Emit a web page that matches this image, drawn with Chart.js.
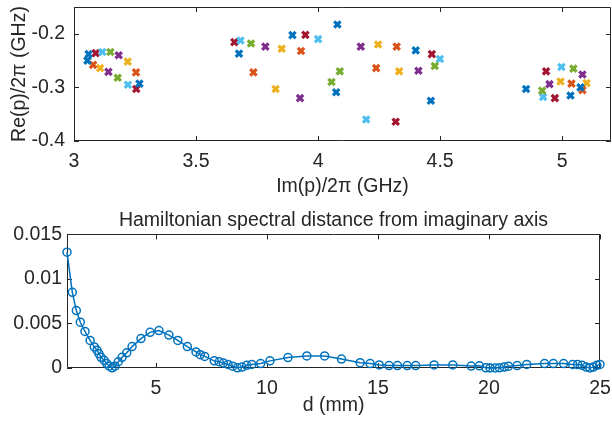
<!DOCTYPE html>
<html>
<head>
<meta charset="utf-8">
<script src="https://cdn.jsdelivr.net/npm/chart.js@4/dist/chart.umd.min.js"></script>
<style>
  body { margin: 0; background: #fff; }
  canvas { display: block; }
</style>
</head>
<body>
<canvas id="poles" width="612" height="200"></canvas>
<canvas id="distance" width="612" height="226"></canvas>
<script>
'use strict';

// Poles p/2π (GHz): imaginary part (x) and real part (y), grouped by plot colour
const blueIm   = [3.060, 3.055, 3.268, 3.676, 3.895, 4.079, 4.074, 4.400, 4.462, 4.852, 5.075, 5.034];
const blueRe   = [-0.238, -0.250, -0.293, -0.237, -0.2025, -0.1826, -0.309, -0.231, -0.325, -0.303, -0.300, -0.315];
const orangeIm = [3.078, 3.254, 3.735, 3.930, 4.238, 4.322, 5.083, 5.038];
const orangeRe = [-0.258, -0.272, -0.272, -0.232, -0.264, -0.224, -0.305, -0.293];
const yellowIm = [3.107, 3.220, 3.826, 3.851, 4.246, 4.332, 5.100, 4.993];
const yellowRe = [-0.264, -0.252, -0.303, -0.228, -0.220, -0.270, -0.292, -0.289];
const purpleIm = [3.183, 3.141, 3.784, 3.926, 4.175, 4.411, 5.083, 4.948];
const purpleRe = [-0.240, -0.271, -0.224, -0.320, -0.224, -0.269, -0.276, -0.294];
const greenIm  = [3.149, 3.179, 3.725, 4.055, 4.089, 4.478, 5.046, 4.918];
const greenRe  = [-0.234, -0.282, -0.218, -0.290, -0.270, -0.260, -0.265, -0.306];
const cyanIm   = [3.116, 3.221, 3.682, 4.000, 4.197, 4.499, 4.997, 4.922];
const cyanRe   = [-0.234, -0.295, -0.2125, -0.210, -0.360, -0.247, -0.262, -0.318];
const redIm    = [3.089, 3.255, 3.657, 3.948, 4.318, 4.466, 4.934, 4.970];
const redRe    = [-0.236, -0.303, -0.2155, -0.202, -0.364, -0.238, -0.270, -0.320];

const poleXTicks = [3, 3.5, 4, 4.5, 5];
const poleYTicks = [-0.4, -0.3, -0.2];

// Hamiltonian spectral distance vs separation d (mm)
const dMm = [1.0, 1.24, 1.42, 1.6, 1.81, 2.04, 2.23, 2.35, 2.44, 2.53, 2.67, 2.79, 2.9, 3.03, 3.16, 3.31, 3.48, 3.69, 3.93,
  4.33, 4.74, 5.14, 5.59, 5.99, 6.42, 6.81, 7.0, 7.2, 7.63, 7.85, 8.04, 8.25, 8.46, 8.67, 8.88, 9.09, 9.32, 9.72, 10.14,
  10.95, 11.8, 12.6, 13.36, 14.2, 14.65, 15.06, 15.5, 15.88, 16.32, 16.7, 17.53, 18.37, 19.2, 19.57, 19.86, 20.05, 20.28,
  20.47, 20.69, 20.88, 21.27, 21.7, 22.5, 22.9, 23.36, 23.77, 23.99, 24.2, 24.38, 24.55, 24.7, 24.86, 25.0];
const spectralDist = [0.0130, 0.0085, 0.00645, 0.00514, 0.0041, 0.0031, 0.00236, 0.0020, 0.0016, 0.0012, 0.00087, 0.0005,
  0.0002, 0.00002, 0.0002, 0.0007, 0.0012, 0.0017, 0.0024, 0.0033, 0.0040, 0.0042, 0.0037, 0.0031, 0.0024, 0.0018, 0.0015,
  0.0013, 0.0008, 0.0007, 0.00056, 0.0004, 0.0002, 0.00002, 0.0001, 0.0003, 0.0004, 0.0005, 0.0008, 0.00117, 0.00135,
  0.00135, 0.0010, 0.0006, 0.0005, 0.00034, 0.00027, 0.00027, 0.00027, 0.00027, 0.00034, 0.00034, 0.00022, 0.00025,
  0.00002, 0.00001, 0.00001, 0.00002, 0.0001, 0.0002, 0.00027, 0.0004, 0.0005, 0.0005, 0.0005, 0.0004, 0.00038, 0.0003,
  0.0001, 0.00001, 0.0001, 0.0003, 0.0004];

const distXTicks = [5, 10, 15, 20, 25];
const distYTicks = [0, 0.005, 0.01, 0.015];

const AXIS_COLOR = '#262626';
const FONT = "'Liberation Sans', Arial, Helvetica, sans-serif";

Chart.defaults.font.family = FONT;
Chart.defaults.color = AXIS_COLOR;
Chart.defaults.animation = false;

function zip(xs, ys) {
    return xs.map((x, i) => ({ x: x, y: ys[i] }));
}

// MATLAB style box with inward tick marks on all four sides
const boxAxes = {
    id: 'boxAxes',
    beforeDatasetsDraw(chart) {
        const { ctx, chartArea: a, scales: { x, y } } = chart;
        const len = 5;
        ctx.save();
        ctx.strokeStyle = AXIS_COLOR;
        ctx.lineWidth = 1;
        ctx.beginPath();
        ctx.rect(Math.round(a.left) + 0.5, Math.round(a.top) + 0.5,
                 Math.round(a.right - a.left) - 1, Math.round(a.bottom - a.top) - 1);
        x.ticks.forEach(t => {
            const px = Math.round(x.getPixelForValue(t.value)) + 0.5;
            ctx.moveTo(px, a.bottom); ctx.lineTo(px, a.bottom - len);
            ctx.moveTo(px, a.top); ctx.lineTo(px, a.top + len);
        });
        y.ticks.forEach(t => {
            const py = Math.round(y.getPixelForValue(t.value)) + 0.5;
            ctx.moveTo(a.left, py); ctx.lineTo(a.left + len, py);
            ctx.moveTo(a.right, py); ctx.lineTo(a.right - len, py);
        });
        ctx.stroke();
        ctx.restore();
    }
};

function fixedTicks(list) {
    return scale => { scale.ticks = list.map(v => ({ value: v })); };
}

function fixWidth(w) {
    return scale => { scale.width = w; scale.paddingTop = 0; scale.paddingBottom = 0; };
}

function fixHeight(h) {
    return scale => { scale.height = h; scale.paddingLeft = 0; scale.paddingRight = 0; };
}

function poleSet(xs, ys, color) {
    return {
        data: zip(xs, ys),
        pointStyle: 'crossRot',
        pointRadius: 4.5,
        pointBorderWidth: 3.2,
        borderColor: color,
        backgroundColor: color,
        clip: false
    };
}

function setupPoles() {
    const ctx = document.getElementById('poles').getContext('2d');
    new Chart(ctx, {
        type: 'scatter',
        data: {
            datasets: [
                poleSet(blueIm, blueRe, '#0072BD'),
                poleSet(orangeIm, orangeRe, '#D95319'),
                poleSet(yellowIm, yellowRe, '#EDB120'),
                poleSet(purpleIm, purpleRe, '#7E2F8E'),
                poleSet(greenIm, greenRe, '#77AC30'),
                poleSet(cyanIm, cyanRe, '#4DBEEE'),
                poleSet(redIm, redRe, '#A2142F')
            ]
        },
        options: {
            responsive: false,
            layout: { autoPadding: false, padding: { top: 7, right: 1, left: 0, bottom: 0 } },
            plugins: { legend: { display: false }, tooltip: { enabled: false } },
            scales: {
                x: {
                    type: 'linear', min: 3, max: 5.2,
                    grid: { display: false, drawTicks: false },
                    border: { display: false },
                    afterBuildTicks: fixedTicks(poleXTicks),
                    afterFit: fixHeight(59),
                    ticks: { padding: 9, font: { size: 19.5 }, maxRotation: 0, callback: v => String(v) },
                    title: { display: true, text: 'Im(p)/2π (GHz)', font: { size: 19.5 }, padding: { top: 0, bottom: 2 } }
                },
                y: {
                    type: 'linear', min: -0.4, max: -0.15,
                    grid: { display: false, drawTicks: false },
                    border: { display: false },
                    afterBuildTicks: fixedTicks(poleYTicks),
                    afterFit: fixWidth(74),
                    ticks: { padding: 9, font: { size: 19.5 }, callback: v => String(v) },
                    title: { display: true, text: 'Re(p)/2π (GHz)', font: { size: 19.5 }, padding: { top: 8, bottom: 0 } }
                }
            }
        },
        plugins: [boxAxes]
    });
}

function setupDistance() {
    const ctx = document.getElementById('distance').getContext('2d');
    new Chart(ctx, {
        type: 'scatter',
        data: {
            datasets: [{
                data: zip(dMm, spectralDist),
                showLine: true,
                borderColor: '#0072BD',
                borderWidth: 1.5,
                backgroundColor: 'rgba(0,0,0,0)',
                pointStyle: 'circle',
                pointRadius: 4,
                pointBorderWidth: 1.5,
                pointBorderColor: '#0072BD',
                pointBackgroundColor: 'rgba(0,0,0,0)',
                clip: false
            }]
        },
        options: {
            responsive: false,
            layout: { autoPadding: false, padding: { top: 0, right: 12, left: 0, bottom: 0 } },
            plugins: {
                legend: { display: false },
                tooltip: { enabled: false },
                title: {
                    display: true,
                    fullSize: false,
                    text: 'Hamiltonian spectral distance from imaginary axis',
                    color: AXIS_COLOR,
                    font: { size: 19.5, weight: 'normal' },
                    padding: { top: 9, bottom: 2 }
                }
            },
            scales: {
                x: {
                    type: 'linear', min: 1, max: 25,
                    grid: { display: false, drawTicks: false },
                    border: { display: false },
                    afterBuildTicks: fixedTicks(distXTicks),
                    afterFit: fixHeight(58),
                    ticks: { padding: 9, font: { size: 19.5 }, maxRotation: 0, callback: v => String(v) },
                    title: { display: true, text: 'd (mm)', font: { size: 19.5 }, padding: { top: 0, bottom: 9 } }
                },
                y: {
                    type: 'linear', min: 0, max: 0.015,
                    grid: { display: false, drawTicks: false },
                    border: { display: false },
                    afterBuildTicks: fixedTicks(distYTicks),
                    afterFit: fixWidth(67),
                    ticks: { padding: 5, font: { size: 19.5 }, callback: v => String(v) }
                }
            }
        },
        plugins: [boxAxes]
    });
}

window.onload = function () {
    setupPoles();
    setupDistance();
};
</script>
</body>
</html>
